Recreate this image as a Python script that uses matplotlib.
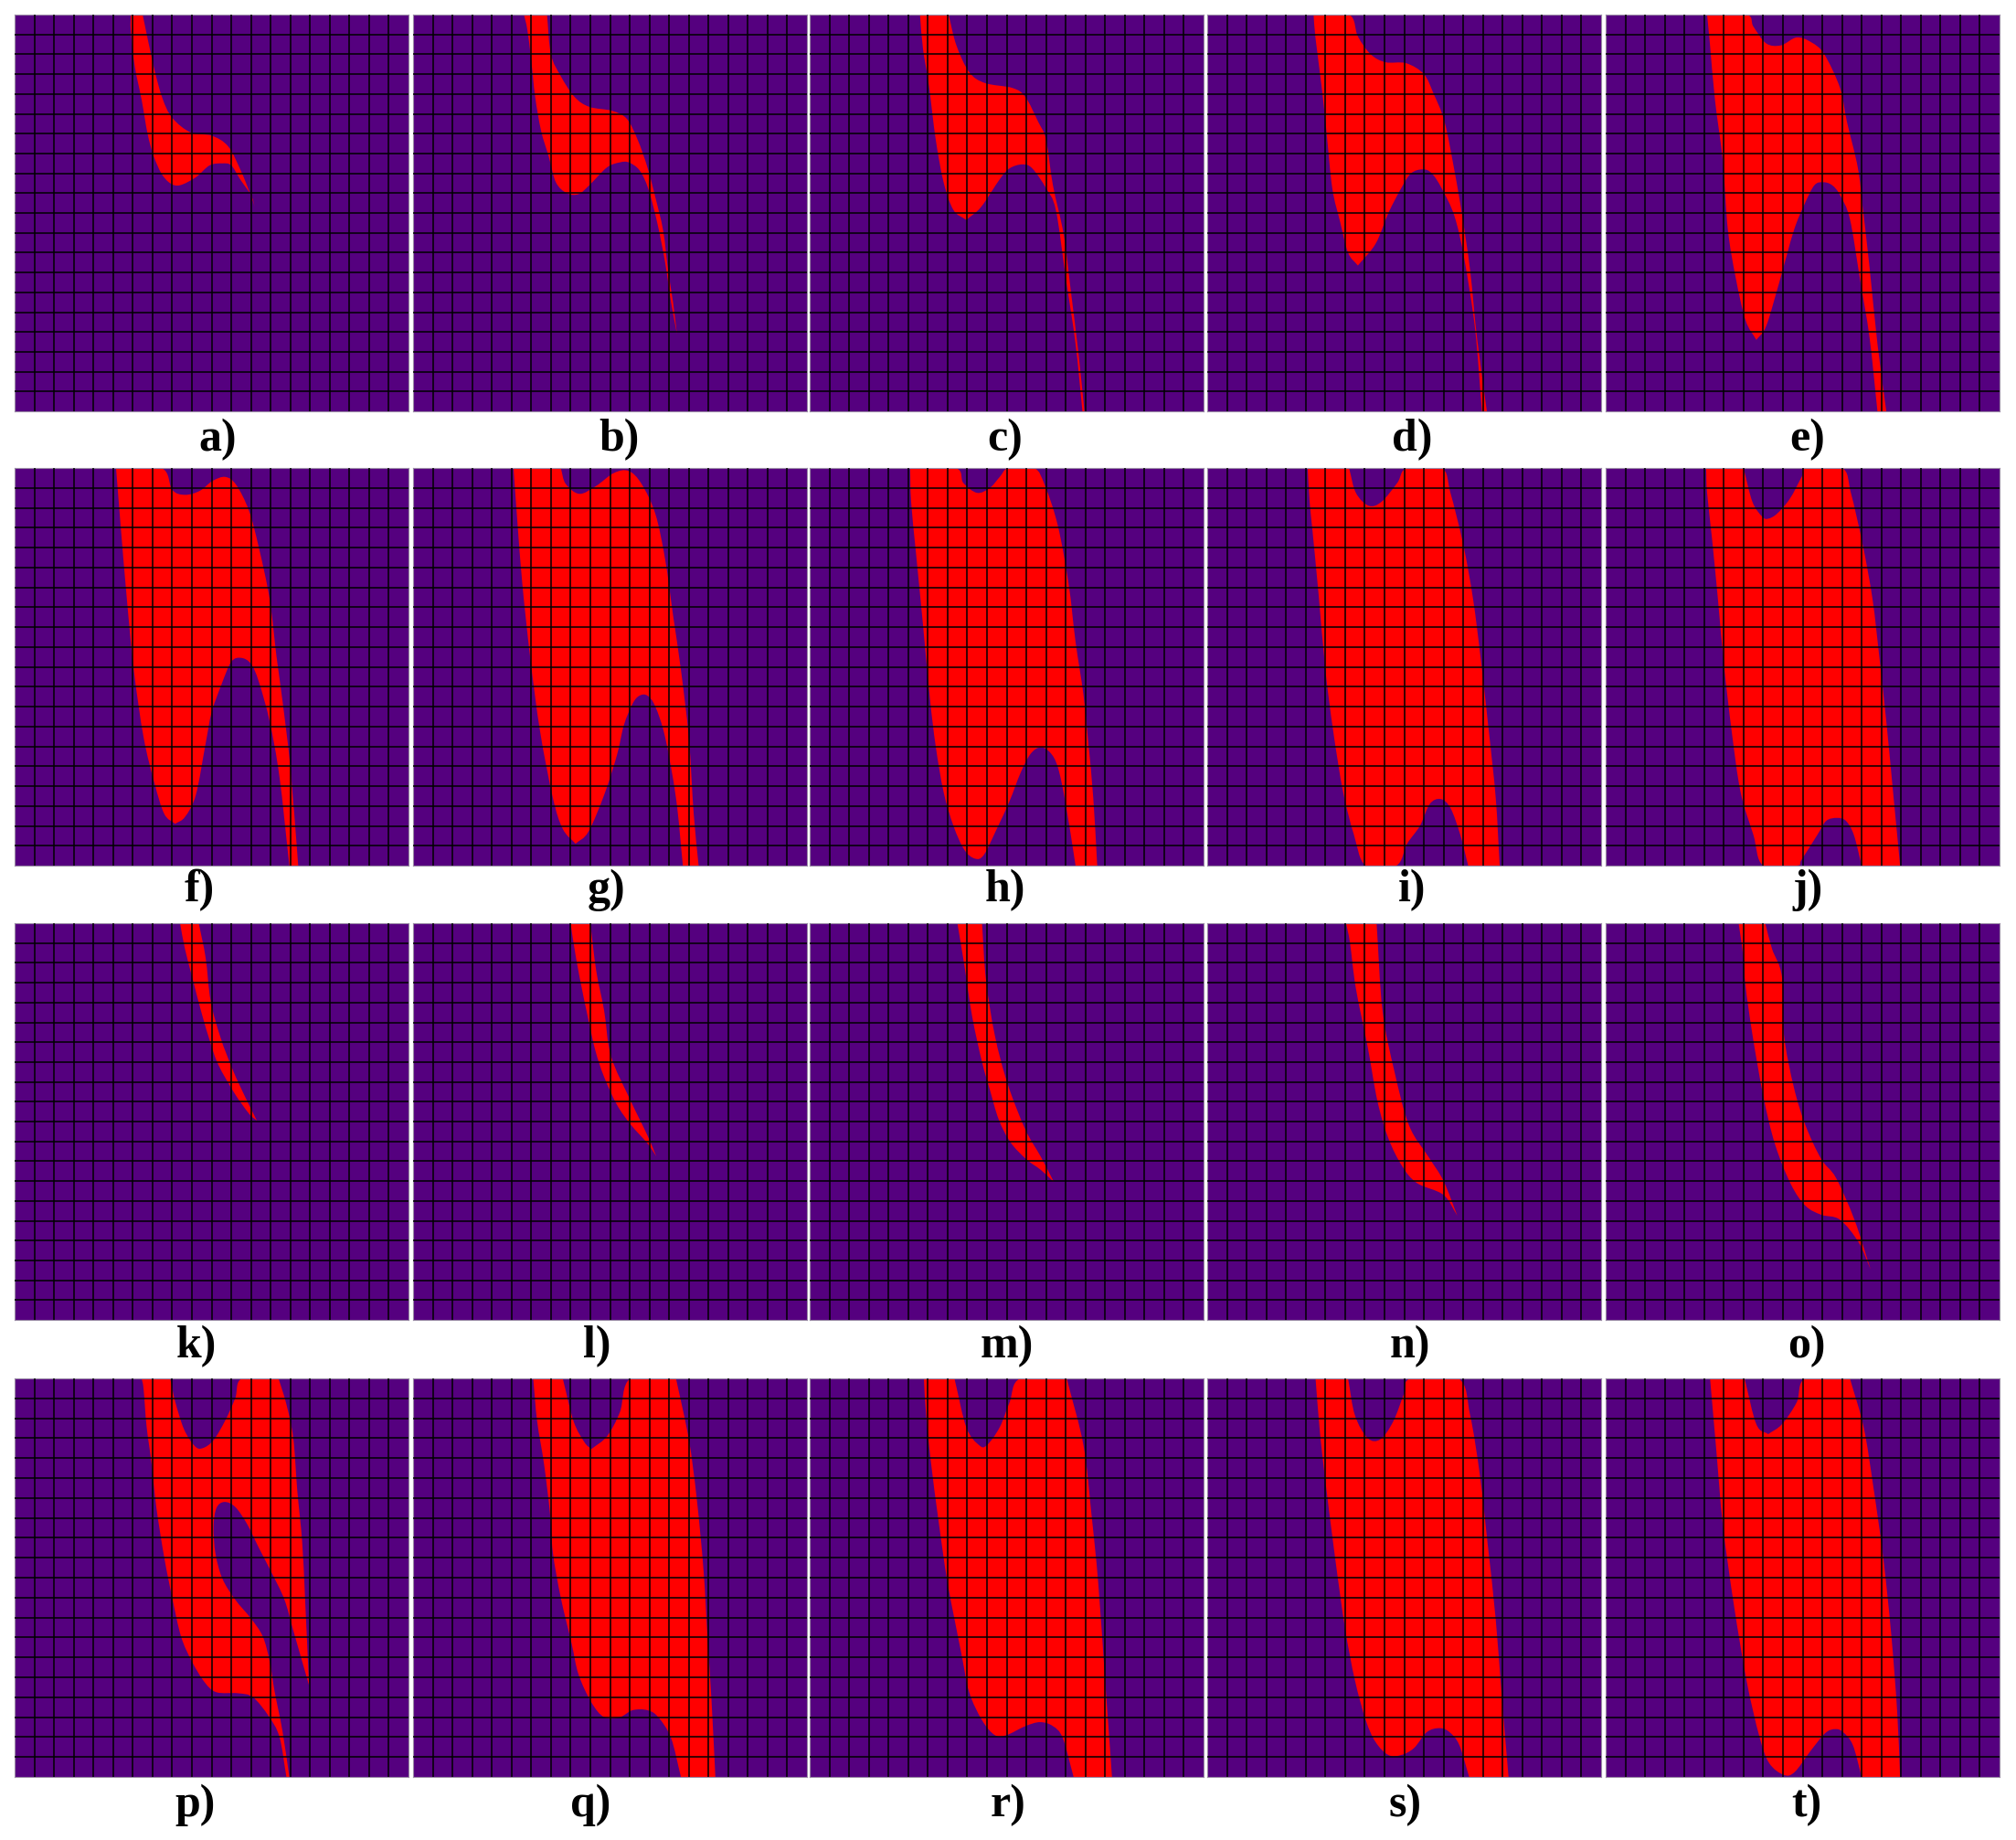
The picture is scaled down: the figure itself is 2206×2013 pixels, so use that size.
import matplotlib
matplotlib.use("Agg")
import matplotlib.pyplot as plt
import numpy as np
from matplotlib.path import Path
from matplotlib.patches import PathPatch

W, H = 2206, 2013

# outlines, in grid cells (x from left, y from top)
panel_a = [(5.9,0),(6.5,0),(7.07,2.65),(7.5,4.2),(8.0,5.2),(8.95,5.95),(10.0,6.1),(10.85,6.65),(11.5,7.9),(11.95,9.0),(12.2,9.7),
           (12.0,9.1),(11.45,8.3),(11.0,7.6),(10.55,7.5),(9.9,7.6),(9.2,8.2),(8.4,8.6),(7.9,8.5),(7.45,8.0),(7.05,7.1),(6.75,6.0),(6.45,4.3),(6.1,2.6),(5.9,0.8)]
panel_b = [(5.63,0),(6.8,0),(7.0,2.0),(7.5,3.1),(8.2,4.15),(8.95,4.65),(10.1,4.85),(10.85,5.25),(11.4,6.3),(11.9,7.7),(12.3,9.2),(12.7,10.9),(12.95,12.9),(13.2,14.5),(13.4,16.1),
           (13.1,14.5),(12.8,12.5),(12.4,10.5),(11.95,8.8),(11.5,7.85),(10.95,7.45),(10.5,7.45),(9.85,7.7),(8.95,8.6),(8.4,9.05),(7.8,9.0),(7.25,8.45),(6.9,7.2),(6.5,5.85),(6.2,4.15),(6.0,2.3),(5.8,0.75)]
panel_c = [(5.6,0),(7.05,0),(7.45,1.55),(8.1,2.9),(8.9,3.45),(10.3,3.7),(10.95,4.15),(11.6,5.4),(12.0,6.3),(12.35,8.6),(12.9,11.1),(13.25,13.85),(13.65,17.1),(13.95,20),
           (13.85,20),(13.5,16.6),(13.0,13.25),(12.5,9.85),(12.0,8.75),(11.3,7.75),(10.8,7.55),(10.15,7.75),(9.65,8.3),(8.7,9.7),(7.95,10.35),(7.3,9.85),(6.8,8.45),(6.4,6.3),(6.05,3.55),(5.75,1.7)]
panel_d = [(5.4,0),(7.2,0),(7.65,1.1),(8.3,2.0),(9.05,2.4),(10.1,2.45),(11.0,3.0),(11.5,4.0),(12.05,5.4),(12.55,7.85),(12.95,10.15),(13.35,12.9),(13.7,16.3),(14.2,20),
           (13.95,20),(13.6,15.85),(13.05,12.3),(12.55,10.15),(11.9,8.75),(11.4,8.0),(10.95,7.8),(10.35,8.0),(9.85,8.75),(9.2,10),(8.55,11.55),(7.65,12.65),(7.15,12),(6.75,10.45),(6.35,8.75),(6.05,5.85),(5.8,3.55),(5.5,1.2)]
panel_e = [(5.15,0),(7.15,0),(7.5,0.6),(8.15,1.45),(8.9,1.55),(9.7,1.15),(10.45,1.4),(11.1,2.0),(11.9,3.7),(12.25,5.4),(12.8,7.7),(13.05,9.7),(13.4,12.75),(13.8,16.6),(14.25,20),
           (13.8,20),(13.4,16.3),(12.9,13.25),(12.4,10.3),(11.9,9.1),(11.5,8.6),(11.05,8.45),(10.6,8.6),(10.1,9.55),(9.55,10.9),(8.8,13.55),(8.15,15.7),(7.65,16.4),(7.1,15.4),(6.6,13.25),(6.2,10.8),(5.95,7.4),(5.55,4.3),(5.3,1.55)]
panel_f = [(5.15,0),(7.45,0),(8.0,1.1),(8.65,1.35),(9.4,1.15),(10.05,0.65),(10.7,0.45),(11.25,0.85),(11.9,2.15),(12.4,4.0),(12.95,6.6),(13.3,9.5),(13.6,11.7),(14.0,15.05),(14.4,20),
           (13.95,20),(13.45,15.55),(12.95,12.75),(12.4,10.75),(12.0,9.85),(11.5,9.55),(11.0,9.75),(10.5,10.9),(10.0,12.3),(9.7,13.85),(9.2,16.45),(8.65,17.55),(8.15,17.9),(7.6,17.4),(7.1,15.85),(6.55,13.55),(6.05,10.15),(5.7,6.6),(5.4,3.1)]
panel_g = [(5.1,0),(7.5,0),(7.75,0.8),(8.45,1.3),(9.3,0.9),(10.2,0.25),(10.95,0.15),(11.6,0.8),(12.3,2.3),(12.8,4.6),(13.2,7.4),(13.6,10.15),(14.0,13.55),(14.25,17.4),(14.5,20),
           (13.7,20),(13.35,16.6),(12.8,13.55),(12.3,12),(11.9,11.45),(11.5,11.45),(11.15,11.85),(10.7,12.95),(10.35,14.45),(9.7,16.45),(8.9,18.3),(8.25,18.9),(7.6,18.15),(7.1,16.6),(6.45,13.25),(5.95,9.55),(5.55,5.85),(5.3,2.75)]
panel_h = [(5.1,0),(7.4,0),(7.8,0.75),(8.5,1.25),(9.15,1.0),(9.65,0.45),(10.1,0),(11.4,0),(11.95,0.9),(12.6,2.9),(13.15,5.85),(13.5,8.75),(13.9,11.4),(14.15,13.85),(14.4,16.6),(14.6,20),
           (13.5,20),(13.0,16.9),(12.6,15.05),(12.2,14.3),(11.7,14.05),(11.2,14.4),(10.7,15.35),(10.15,16.75),(9.5,18.15),(8.85,19.45),(8.4,19.65),(7.85,19.2),(7.3,18),(6.8,16.3),(6.4,14),(6.1,11.55),(5.75,7.85),(5.4,4.3),(5.15,1.7)]
panel_i = [(5.1,0),(7.2,0),(7.55,1.25),(8.2,1.9),(8.85,1.7),(9.65,0.75),(10.15,0),(11.9,0),(12.35,1.25),(13.0,3.85),(13.5,6.6),(13.9,9.7),(14.3,13.25),(14.65,16.6),(14.85,20),
           (13.25,20),(12.85,18.45),(12.35,17.1),(11.85,16.65),(11.3,16.9),(10.8,18),(10.15,18.9),(9.6,20),(8.05,20),(7.45,18.45),(6.9,16.3),(6.4,13.25),(6.0,10.15),(5.65,6.3),(5.35,3.2),(5.2,1.7)]
panel_j = [(5.1,0),(7.0,0),(7.45,1.7),(7.95,2.45),(8.25,2.55),(8.7,2.3),(9.35,1.55),(9.95,0.45),(10.2,0),(12.0,0),(12.45,1.25),(13.05,3.85),(13.55,6.6),(13.9,9.55),(14.25,12.75),(14.55,15.85),(14.95,20),
           (13.0,20),(12.6,18.45),(12.2,17.75),(11.75,17.6),(11.2,17.75),(10.75,18.45),(9.95,19.7),(9.7,20),(8.0,20),(7.5,18.45),(6.85,16.3),(6.4,13.25),(6.0,9.85),(5.7,6.6),(5.4,3.55),(5.15,1.25)]
panel_k = [(8.4,0),(9.35,0),(9.7,1.75),(9.95,3.9),(10.45,5.75),(11.1,7.45),(11.75,8.85),(12.3,9.95),
           (11.9,9.6),(11.15,8.55),(10.35,7.15),(9.95,6.05),(9.5,4.55),(9.05,2.85),(8.65,1.3)]
panel_l = [(8.0,0),(9.0,0),(9.3,2.4),(9.7,4.4),(10.05,6.7),(11.0,8.85),(11.9,10.7),(12.35,11.75),
           (11.9,11.1),(11.05,10.15),(10.35,9.15),(9.7,7.75),(9.25,6.4),(8.9,4.85),(8.45,2.7),(8.15,1.0)]
panel_m = [(7.5,0),(8.75,0),(8.95,2.85),(9.4,5.65),(10.05,8.1),(10.95,10.4),(11.75,11.8),(12.4,13.05),
           (11.75,12.45),(11.0,11.9),(10.2,11.05),(9.6,9.9),(9.15,8.4),(8.75,7.0),(8.25,4.7),(7.85,2.1)]
panel_n = [(7.05,0),(8.6,0),(8.9,4.4),(9.5,7.45),(10.25,10.2),(11.25,11.8),(12.0,13),(12.7,14.75),
           (12.0,13.7),(10.65,13.1),(9.9,12.25),(9.2,10.85),(8.65,9),(8.15,6.25),(7.55,3.3),(7.25,1.0)]
panel_o = [(6.75,0),(8.1,0),(8.45,1.3),(8.95,2.7),(9.05,5.6),(9.55,8.25),(10.15,10.2),(10.95,11.9),(11.7,12.85),(12.65,15),(13.45,17.45),
           (12.85,16.1),(11.9,14.95),(10.95,14.7),(10.15,14.25),(9.4,13.15),(8.6,11.15),(8.0,8.7),(7.45,5.6),(7.1,3.15),(7.0,1.75)]
panel_p = [(6.45,0),(7.9,0),(8.15,1.15),(8.6,2.55),(9.15,3.4),(9.55,3.5),(10.1,3.1),(10.7,2.1),(11.2,1.0),(11.55,0),(13.4,0),(13.8,1.3),(14.15,3.0),(14.35,5.6),(14.6,8.2),(14.75,11.1),(14.95,15.4),
           (14.6,14.2),(14.15,12.65),(13.7,11.1),(13.05,9.75),(12.4,8.5),(11.8,7.3),(11.2,6.45),(10.65,6.2),(10.25,6.5),(10.1,7.45),(10.2,8.8),(10.55,10.05),(11.2,11.1),(12.0,12.05),(12.6,12.95),(12.95,14.2),(13.2,15.7),(13.6,17.7),(13.95,20),
           (13.8,20),(13.45,18),(12.9,16.95),(12.1,16),(11.35,15.8),(10.25,15.75),(9.65,15.25),(9.0,14.2),(8.45,12.95),(8.0,11),(7.6,9),(7.2,6.5),(6.95,4.25),(6.7,2.4),(6.55,0.55)]
panel_q = [(6.1,0),(7.6,0),(8.15,2.15),(8.7,3.2),(9.05,3.55),(9.85,2.9),(10.5,1.7),(11.05,0),(13.35,0),(14.0,3.05),(14.4,6),(14.75,9.65),(14.95,13),(15.15,16.1),(15.35,20),
           (13.6,20),(13.1,18.05),(12.45,17),(11.9,16.65),(11.15,16.65),(10.5,17),(9.7,17),(9.05,16.25),(8.4,14.85),(8.05,13.3),(7.5,11),(7.1,8.75),(6.95,6.75),(6.65,4.3),(6.3,2.15)]
panel_r = [(5.8,0),(7.35,0),(7.95,2.45),(8.6,3.35),(9.0,3.35),(9.65,2.45),(10.15,1.2),(10.7,0),(13.05,0),(13.9,3.35),(14.3,6.75),(14.65,10.25),(15.0,15.15),(15.2,17.9),(15.35,20),
           (13.4,20),(12.85,18.05),(12.35,17.45),(11.7,17.25),(10.95,17.45),(10.0,17.9),(9.4,17.9),(8.75,17.15),(8.1,15.75),(7.7,13.8),(7.0,10.25),(6.55,7.2),(6.15,4.15),(5.9,1.7)]
panel_s = [(5.5,0),(7.15,0),(7.5,1.85),(8.15,3),(8.8,3.05),(9.45,2.15),(10.0,0.75),(10.35,0),(12.75,0),(13.35,1.85),(13.85,4.9),(14.25,8.4),(14.65,12.1),(14.95,15.9),(15.3,20),
           (13.3,20),(12.8,18.4),(12.3,17.75),(11.8,17.55),(11.15,17.75),(10.5,18.55),(9.85,18.9),(9.2,18.9),(8.55,18.25),(8.05,17.15),(7.5,15.15),(7.0,12.55),(6.5,9.05),(5.95,4.75),(5.7,2.45)]
panel_t = [(5.3,0),(7.05,0),(7.65,2.3),(8.25,2.8),(8.95,2.3),(9.7,1.2),(10.15,0),(12.4,0),(13.1,2.45),(13.6,5.5),(14.1,9.05),(14.5,12.85),(14.8,16.7),(14.95,20),
           (13.0,20),(12.55,18.4),(12.05,17.75),(11.65,17.6),(11.15,17.8),(10.4,18.7),(9.6,19.75),(9.05,19.9),(8.3,19.3),(7.8,17.95),(7.15,15.15),(6.5,11.3),(5.95,7.35),(5.6,3.4)]

labels = ["a)", "b)", "c)", "d)", "e)", "f)", "g)", "h)", "i)", "j)",
          "k)", "l)", "m)", "n)", "o)", "p)", "q)", "r)", "s)", "t)"]
outlines = [panel_a, panel_b, panel_c, panel_d, panel_e, panel_f, panel_g, panel_h, panel_i, panel_j,
            panel_k, panel_l, panel_m, panel_n, panel_o, panel_p, panel_q, panel_r, panel_s, panel_t]

# panel placement in pixels
col_left = [16, 452, 886, 1321, 1757]
row_top = [16, 512, 1010, 1508]
row_bottom = [450, 947, 1444, 1944]
panel_w = 431
label_x = [238, 677, 1100, 1545, 1978, 218, 664, 1100, 1545, 1978,
           215, 653, 1102, 1543, 1977, 214, 646, 1103, 1538, 1977]
label_y = [481, 974, 1473, 1975]

PURPLE = "#55007F"
RED = "#FF0000"


def smooth_path(outline):
    # closed bezier through the outline points, sharp turns stay corners
    pts = np.array(outline, dtype=float)
    n = len(pts)
    t_in = np.zeros((n, 2))
    t_out = np.zeros((n, 2))
    for i in range(n):
        d_in = pts[i] - pts[i - 1]
        d_out = pts[(i + 1) % n] - pts[i]
        cos_turn = d_in @ d_out / (np.linalg.norm(d_in) * np.linalg.norm(d_out))
        if cos_turn > 0.3:
            t_in[i] = t_out[i] = (d_in + d_out) / 2
        else:
            t_in[i] = d_in
            t_out[i] = d_out
    verts = [pts[0]]
    codes = [Path.MOVETO]
    for i in range(n):
        j = (i + 1) % n
        verts += [pts[i] + t_out[i] / 3, pts[j] - t_in[j] / 3, pts[j]]
        codes += [Path.CURVE4] * 3
    return Path(verts, codes)


fig = plt.figure(figsize=(W / 100, H / 100), dpi=100, facecolor="white")

for i, (name, outline) in enumerate(zip(labels, outlines)):
    row, col = divmod(i, 5)
    top, bottom = row_top[row], row_bottom[row]
    ax = fig.add_axes([col_left[col] / W, 1 - bottom / H, panel_w / W, (bottom - top) / H])
    ax.set_facecolor(PURPLE)
    ax.add_patch(PathPatch(smooth_path(outline), facecolor=RED, edgecolor="none", lw=0))
    ax.set_xlim(0, 20)
    ax.set_ylim(20, 0)
    ax.set_xticks(range(1, 20))
    ax.set_yticks(range(1, 20))
    ax.tick_params(length=0, labelbottom=False, labelleft=False)
    ax.grid(True, color="black", lw=1.1)
    ax.set_axisbelow(False)
    for s in ax.spines.values():
        s.set_color("#9A8AA5")
        s.set_linewidth(0.8)
    fig.text(label_x[i] / W, 1 - label_y[row] / H, name, ha="center", va="center",
             family="Liberation Serif", weight="bold", fontsize=36, color="black")

fig.savefig("out.png", dpi=100)
